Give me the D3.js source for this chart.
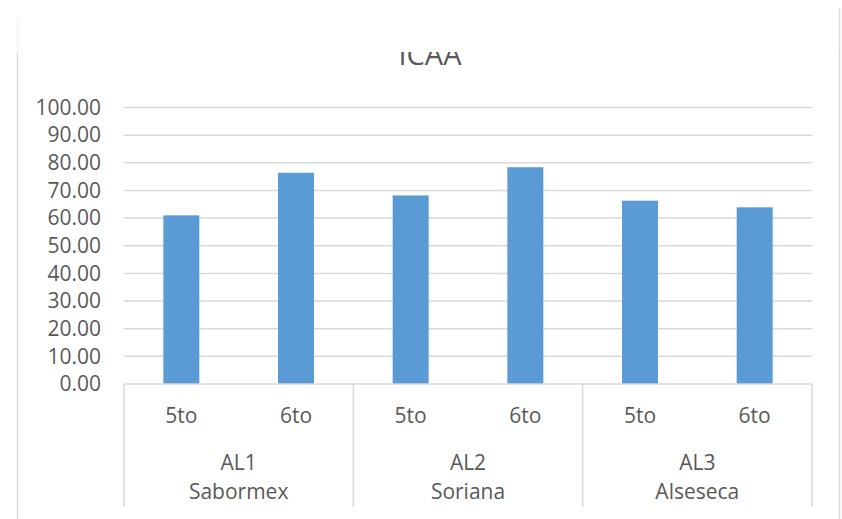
<!DOCTYPE html>
<html>
<head>
<meta charset="utf-8">
<script src="https://cdn.jsdelivr.net/npm/d3@7"></script>
<style>
  html, body { margin: 0; padding: 0; background: #fff; }
  svg { display: block; }
  text { font-family: "Open Sans", "Liberation Sans", sans-serif; fill: #595959; }
</style>
</head>
<body>
<svg id="chart" width="842" height="519"></svg>
<script>
// ICAA by school (AL1..AL3) and grade (5to, 6to)
const groups = ["AL1\nSabormex", "AL2\nSoriana", "AL3\nAlseseca"];
const grades = ["5to", "6to"];
const icaa = [61.0, 76.4, 68.2, 78.4, 66.3, 63.9];
const yTicks = [0, 10, 20, 30, 40, 50, 60, 70, 80, 90, 100];
const title = "ICAA";

const rows = [];
groups.forEach((g, gi) => grades.forEach((gr, ri) => {
  rows.push({ key: gi + "-" + gr, group: g, grade: gr, value: icaa[gi * grades.length + ri] });
}));

const svg = d3.select("#chart");
const plotLeft = 124, plotRight = 812, plotTop = 107.5, plotBottom = 384;

const x = d3.scaleBand()
  .domain(rows.map(d => d.key))
  .range([plotLeft, plotRight])
  .paddingInner(0.686)
  .paddingOuter(0.343);

const y = d3.scaleLinear().domain([0, 100]).range([plotBottom, plotTop]);

// outer chart frame
svg.append("line").attr("x1", 17.5).attr("x2", 17.5).attr("y1", 53).attr("y2", 519)
  .attr("stroke", "#d9d9d9").attr("stroke-width", 1.5);
svg.append("line").attr("x1", 17.5).attr("x2", 17.5).attr("y1", 17).attr("y2", 53)
  .attr("stroke", "#f2f2f2").attr("stroke-width", 1);
svg.append("line").attr("x1", 839.5).attr("x2", 839.5).attr("y1", 8).attr("y2", 519)
  .attr("stroke", "#d9d9d9").attr("stroke-width", 1.5);

// gridlines
svg.append("g").selectAll("line").data(yTicks.filter(t => t > 0)).join("line")
  .attr("x1", plotLeft).attr("x2", plotRight)
  .attr("y1", d => y(d)).attr("y2", d => y(d))
  .attr("stroke", "#d9d9d9").attr("stroke-width", 1.5);

// y axis labels
const yAxis = d3.axisLeft(y).tickValues(yTicks).tickFormat(d3.format(".2f")).tickSize(0).tickPadding(0);
const gy = svg.append("g").attr("transform", "translate(101,0)").call(yAxis);
gy.select(".domain").remove();
gy.selectAll("text").attr("font-size", 21).attr("fill", "#595959")
  .style("font-family", "'Open Sans', sans-serif");

// bars
svg.append("g").selectAll("rect").data(rows).join("rect")
  .attr("x", d => x(d.key))
  .attr("width", x.bandwidth())
  .attr("y", d => y(d.value))
  .attr("height", d => y(0) - y(d.value))
  .attr("fill", "#5b9bd5");

// category axis: baseline and group separators
const axisColor = "#d9d9d9";
svg.append("line").attr("x1", plotLeft).attr("x2", plotRight).attr("y1", plotBottom).attr("y2", plotBottom)
  .attr("stroke", axisColor).attr("stroke-width", 1.5);
const step = x.step();
const sepX = d3.range(groups.length + 1).map(i => plotLeft + i * step * grades.length);
svg.append("g").selectAll("line").data(sepX).join("line")
  .attr("x1", d => d).attr("x2", d => d).attr("y1", plotBottom).attr("y2", 507)
  .attr("stroke", axisColor).attr("stroke-width", 1.5);

// grade labels
svg.append("g").selectAll("text").data(rows).join("text")
  .attr("x", d => x(d.key) + x.bandwidth() / 2)
  .attr("y", 416)
  .attr("dy", "0.35em")
  .attr("text-anchor", "middle")
  .attr("font-size", 21)
  .text(d => d.grade);

// group labels (two lines each)
const gl = svg.append("g").selectAll("text").data(groups).join("text")
  .attr("text-anchor", "middle")
  .attr("font-size", 21);
gl.each(function (d, i) {
  const cx = (sepX[i] + sepX[i + 1]) / 2;
  d.split("\n").forEach((line, li) => {
    d3.select(this).append("tspan")
      .attr("x", cx)
      .attr("y", 463 + li * 29)
      .attr("dy", "0.35em")
      .text(line);
  });
});

// title, partly hidden under the top strip
svg.append("text").attr("x", 430).attr("y", 65)
  .attr("text-anchor", "middle").attr("font-size", 29).text(title);
svg.append("rect").attr("x", 18.5).attr("y", 0).attr("width", 820).attr("height", 52)
  .attr("fill", "#fff");
</script>
</body>
</html>
